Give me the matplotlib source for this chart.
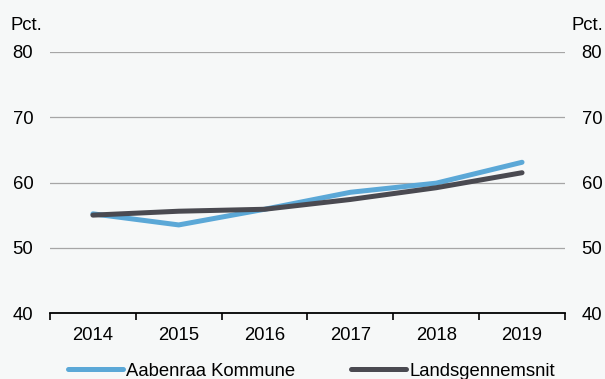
import matplotlib
matplotlib.use("Agg")
import matplotlib.pyplot as plt

# Data
years = ['2014', '2015', '2016', '2017', '2018', '2019']
aabenraa = [55.2, 53.5, 55.9, 58.5, 59.9, 63.1]
landsgennemsnit = [55.0, 55.6, 55.9, 57.4, 59.2, 61.5]
yticks = [40, 50, 60, 70, 80]

plt.rcParams['font.family'] = ['Liberation Sans', 'DejaVu Sans']
bg = '#f6f8f8'
fs = 13.3

fig = plt.figure(figsize=(6.05, 3.79), dpi=100, facecolor=bg)
ax = fig.add_axes([0.0826, 0.1741, 0.8512, 0.6887], facecolor=bg)

x = list(range(len(years)))
ax.plot(x, aabenraa, color='#5ba8d7', lw=3.6, solid_capstyle='round',
        label='Aabenraa Kommune', zorder=3)
ax.plot(x, landsgennemsnit, color='#4a4a51', lw=3.6, solid_capstyle='round',
        label='Landsgennemsnit', zorder=4)

ax.set_xlim(-0.5, len(years) - 0.5)
ax.set_ylim(40, 80)
ax.set_yticks(yticks)
ax.grid(axis='y', color='#a6a6a6', lw=0.9)
ax.set_axisbelow(True)

# categories sit between the tick marks
ax.set_xticks([i - 0.5 for i in range(len(years) + 1)])
ax.set_xticklabels([])
ax.set_xticks(x, minor=True)
ax.set_xticklabels(years, minor=True)
ax.tick_params(axis='x', which='major', length=5, width=1.2, color='black', direction='out')
ax.tick_params(axis='x', which='minor', length=0, pad=10, labelsize=fs)
ax.tick_params(axis='y', length=0, labelsize=fs, pad=12, labelleft=True, labelright=True)

for s in ['top', 'left', 'right']:
    ax.spines[s].set_visible(False)
ax.spines['bottom'].set_linewidth(1.3)
ax.spines['bottom'].set_color('black')

fig.text(10 / 605, 1 - 25 / 379, 'Pct.', fontsize=fs, ha='left', va='center')
fig.text(603 / 605, 1 - 25 / 379, 'Pct.', fontsize=fs, ha='right', va='center')

fig.legend(loc='center', bbox_to_anchor=(311.5 / 605, 1 - 371 / 379), ncol=2,
           frameon=False, fontsize=fs, handlelength=3.0, handletextpad=0.17,
           columnspacing=3.0, borderaxespad=0, borderpad=0)

fig.savefig('out.png', dpi=100, facecolor=bg)
